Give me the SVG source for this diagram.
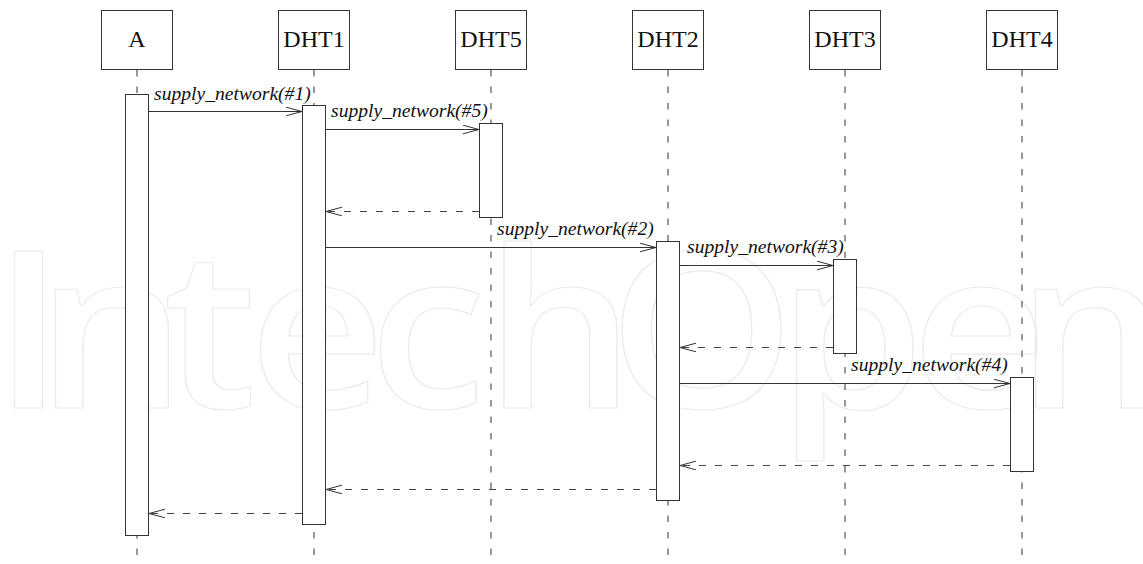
<svg xmlns="http://www.w3.org/2000/svg" width="1143" height="564" viewBox="0 0 1143 564">
<style>
.bg{fill:#ffffff}
.wm{font-family:"Open Sans","Noto Sans",sans-serif;font-size:220px;font-weight:600;fill:none;stroke:#ebebeb;stroke-width:1.2;text-anchor:middle}
.head{fill:#ffffff;stroke:#333333;stroke-width:1}
.htxt{font-family:"Liberation Serif","Times New Roman",serif;font-size:24px;fill:#111111;text-anchor:middle}
.life{stroke:#555555;stroke-width:1.2;stroke-dasharray:6.5 10;fill:none}
.act{fill:#ffffff;stroke:#333333;stroke-width:1}
.call{stroke:#333333;stroke-width:1;fill:none;marker-end:url(#open)}
.ret{stroke:#444444;stroke-width:1;stroke-dasharray:7 9;fill:none;marker-end:url(#open)}
.lbl{font-family:"Liberation Serif","Times New Roman",serif;font-style:italic;font-size:19.6px;fill:#111111}
</style>
<defs>
<marker id="open" markerUnits="userSpaceOnUse" markerWidth="18" markerHeight="10" refX="16" refY="4.5" orient="auto" viewBox="0 0 18 10">
<path d="M0,0.2 L16,4.5 L0,8.8" fill="none" stroke="#333333" stroke-width="1"/>
</marker>
</defs>
<rect class="bg" x="0" y="0" width="1143" height="564"/>
<g transform="scale(1.08,1)">
<text class="wm" y="408" x="26.4 103.2 194.4 293.5 395.8 518.5 649.5 788 907 1010.6">IntechOpen</text>
</g>

<g id="lifelines">
<line class="life" x1="137" y1="70" x2="137" y2="564"/>
<line class="life" x1="314" y1="70" x2="314" y2="564"/>
<line class="life" x1="491" y1="70" x2="491" y2="564"/>
<line class="life" x1="668" y1="70" x2="668" y2="564"/>
<line class="life" x1="845" y1="70" x2="845" y2="564"/>
<line class="life" x1="1022" y1="70" x2="1022" y2="564"/>
</g>

<g id="node-A">
<rect class="head" x="101.5" y="10.5" width="71" height="59"/>
<text class="htxt" x="137" y="47">A</text>
<rect class="act" x="125.5" y="94.5" width="23" height="441"/>
</g>
<g id="node-DHT1">
<rect class="head" x="278.5" y="10.5" width="71" height="59"/>
<text class="htxt" x="314" y="47">DHT1</text>
<rect class="act" x="302.5" y="105.5" width="23" height="419"/>
</g>
<g id="node-DHT5">
<rect class="head" x="455.5" y="10.5" width="71" height="59"/>
<text class="htxt" x="491" y="47">DHT5</text>
<rect class="act" x="479.5" y="123.5" width="23" height="94"/>
</g>
<g id="node-DHT2">
<rect class="head" x="632.5" y="10.5" width="71" height="59"/>
<text class="htxt" x="668" y="47">DHT2</text>
<rect class="act" x="656.5" y="241.5" width="23" height="259"/>
</g>
<g id="node-DHT3">
<rect class="head" x="809.5" y="10.5" width="71" height="59"/>
<text class="htxt" x="845" y="47">DHT3</text>
<rect class="act" x="833.5" y="259.5" width="23" height="94"/>
</g>
<g id="node-DHT4">
<rect class="head" x="986.5" y="10.5" width="71" height="59"/>
<text class="htxt" x="1022" y="47">DHT4</text>
<rect class="act" x="1010.5" y="377.5" width="23" height="94"/>
</g>

<g id="connectors">
<line class="call" x1="149" y1="111.5" x2="302" y2="111.5"/>
<text class="lbl" x="154" y="100">supply_network(#1)</text>
<line class="call" x1="326" y1="129.5" x2="479" y2="129.5"/>
<text class="lbl" x="331" y="117">supply_network(#5)</text>
<line class="ret" x1="479" y1="211.5" x2="326" y2="211.5"/>
<line class="call" x1="326" y1="247.5" x2="656" y2="247.5"/>
<text class="lbl" x="497" y="235">supply_network(#2)</text>
<line class="call" x1="680" y1="265.5" x2="833" y2="265.5"/>
<text class="lbl" x="687" y="253">supply_network(#3)</text>
<line class="ret" x1="833" y1="347.5" x2="680" y2="347.5"/>
<line class="call" x1="680" y1="383.5" x2="1010" y2="383.5"/>
<text class="lbl" x="851" y="371">supply_network(#4)</text>
<line class="ret" x1="1010" y1="465.5" x2="680" y2="465.5"/>
<line class="ret" x1="656" y1="489.5" x2="326" y2="489.5"/>
<line class="ret" x1="302" y1="513.5" x2="149" y2="513.5"/>
</g>
</svg>
